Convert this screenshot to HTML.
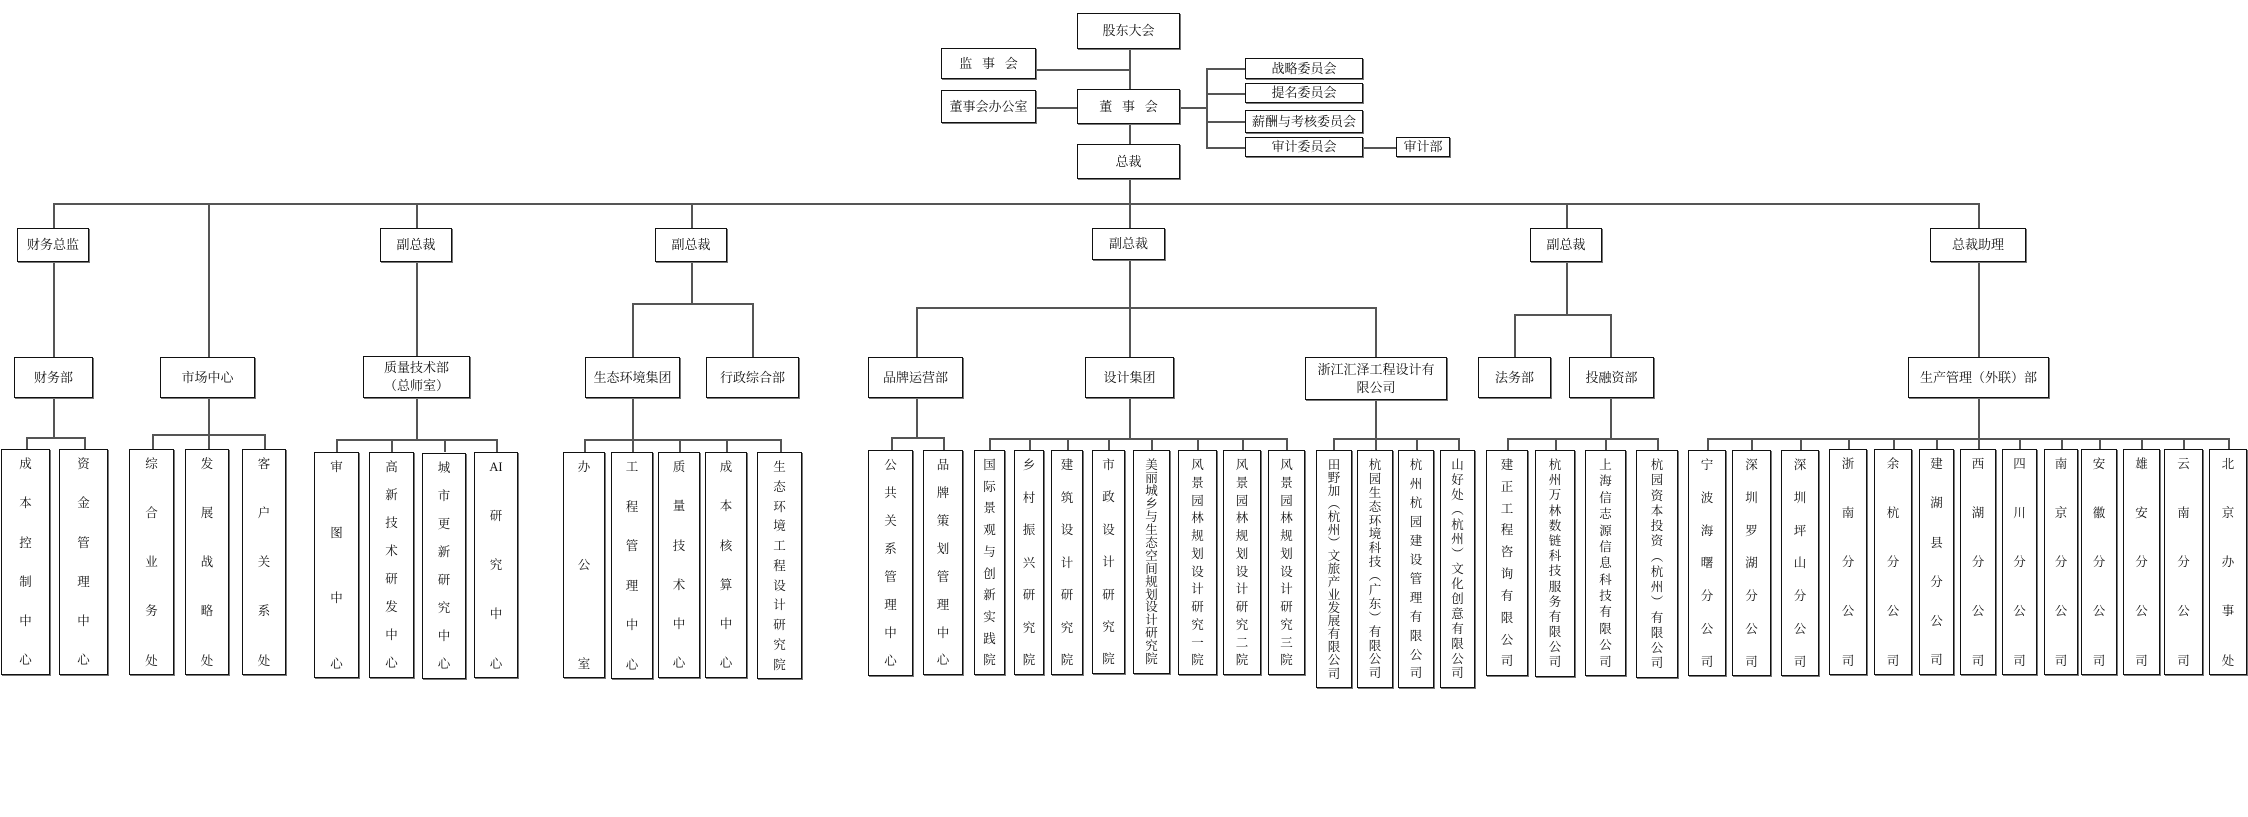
<!DOCTYPE html>
<html><head><meta charset="utf-8"><style>
body{margin:0;width:2248px;height:817px;background:#fff;position:relative;overflow:hidden;font-family:"Liberation Serif","Noto Serif CJK SC",serif;color:#111}
.b{position:absolute;border:1.5px solid #111;box-sizing:border-box;background:#fff;display:flex;align-items:center;justify-content:center;font-size:13px;box-shadow:1px 1px 0 #777;text-align:center;line-height:1.35;white-space:nowrap}
.c{flex-direction:column;justify-content:space-between;padding:8px 0 7px;font-size:12.5px;line-height:1}
.c i{font-style:normal;display:block}
.h,.v{position:absolute;background:#555}
.h{height:1.5px}.v{width:1.5px}
</style></head><body>
<!-- top lines -->
<div class="v" style="left:1129px;top:49px;height:40px"></div>
<div class="v" style="left:1129px;top:124px;height:20px"></div>
<div class="v" style="left:1129px;top:179px;height:24px"></div>
<div class="h" style="left:1036px;top:69px;width:93px"></div>
<div class="h" style="left:1036px;top:107px;width:41px"></div>
<div class="h" style="left:1180px;top:107px;width:26px"></div>
<div class="v" style="left:1206px;top:68px;height:80px"></div>
<div class="h" style="left:1206px;top:68px;width:39px"></div>
<div class="h" style="left:1206px;top:93px;width:39px"></div>
<div class="h" style="left:1206px;top:121px;width:39px"></div>
<div class="h" style="left:1206px;top:147px;width:39px"></div>
<div class="h" style="left:1363px;top:147px;width:33px"></div>
<div class="h" style="left:53px;top:203px;width:1926px"></div>
<div class="v" style="left:53px;top:203px;height:25px"></div>
<div class="v" style="left:416px;top:203px;height:25px"></div>
<div class="v" style="left:691px;top:203px;height:25px"></div>
<div class="v" style="left:1129px;top:203px;height:25px"></div>
<div class="v" style="left:1566px;top:203px;height:25px"></div>
<div class="v" style="left:1978px;top:203px;height:25px"></div>
<div class="v" style="left:208px;top:203px;height:154px"></div>
<!-- level2->3 -->
<div class="v" style="left:53px;top:262px;height:95px"></div>
<div class="v" style="left:416px;top:262px;height:94px"></div>
<div class="v" style="left:691px;top:262px;height:41px"></div>
<div class="h" style="left:632px;top:303px;width:121px"></div>
<div class="v" style="left:632px;top:303px;height:54px"></div>
<div class="v" style="left:752px;top:303px;height:54px"></div>
<div class="v" style="left:1129px;top:260px;height:47px"></div>
<div class="h" style="left:916px;top:307px;width:460px"></div>
<div class="v" style="left:916px;top:307px;height:50px"></div>
<div class="v" style="left:1129px;top:307px;height:50px"></div>
<div class="v" style="left:1375px;top:307px;height:50px"></div>
<div class="v" style="left:1566px;top:262px;height:52px"></div>
<div class="h" style="left:1514px;top:314px;width:97px"></div>
<div class="v" style="left:1514px;top:314px;height:43px"></div>
<div class="v" style="left:1610px;top:314px;height:43px"></div>
<div class="v" style="left:1978px;top:262px;height:95px"></div>
<!-- level3->children -->
<div class="v" style="left:53px;top:398px;height:39px"></div>
<div class="h" style="left:26px;top:437px;width:59px"></div>
<div class="v" style="left:26px;top:437px;height:13px"></div><div class="v" style="left:84px;top:437px;height:13px"></div>
<div class="v" style="left:208px;top:398px;height:36px"></div>
<div class="h" style="left:152px;top:434px;width:113px"></div>
<div class="v" style="left:152px;top:434px;height:16px"></div><div class="v" style="left:208px;top:434px;height:16px"></div><div class="v" style="left:264px;top:434px;height:16px"></div>
<div class="v" style="left:416px;top:398px;height:41px"></div>
<div class="h" style="left:336px;top:439px;width:161px"></div>
<div class="v" style="left:336px;top:439px;height:13px"></div><div class="v" style="left:391px;top:439px;height:13px"></div><div class="v" style="left:444px;top:439px;height:13px"></div><div class="v" style="left:496px;top:439px;height:13px"></div>
<div class="v" style="left:632px;top:398px;height:41px"></div>
<div class="h" style="left:584px;top:439px;width:197px"></div>
<div class="v" style="left:584px;top:439px;height:13px"></div><div class="v" style="left:632px;top:439px;height:13px"></div><div class="v" style="left:679px;top:439px;height:13px"></div><div class="v" style="left:726px;top:439px;height:13px"></div><div class="v" style="left:780px;top:439px;height:13px"></div>
<div class="v" style="left:916px;top:398px;height:39px"></div>
<div class="h" style="left:891px;top:437px;width:53px"></div>
<div class="v" style="left:891px;top:437px;height:13px"></div><div class="v" style="left:943px;top:437px;height:13px"></div>
<div class="v" style="left:1129px;top:398px;height:40px"></div>
<div class="h" style="left:989px;top:438px;width:298px"></div>
<div class="v" style="left:989px;top:438px;height:12px"></div><div class="v" style="left:1029px;top:438px;height:12px"></div><div class="v" style="left:1067px;top:438px;height:12px"></div><div class="v" style="left:1108px;top:438px;height:12px"></div><div class="v" style="left:1151px;top:438px;height:12px"></div><div class="v" style="left:1197px;top:438px;height:12px"></div><div class="v" style="left:1242px;top:438px;height:12px"></div><div class="v" style="left:1286px;top:438px;height:12px"></div>
<div class="v" style="left:1375px;top:400px;height:38px"></div>
<div class="h" style="left:1333px;top:438px;width:126px"></div>
<div class="v" style="left:1333px;top:438px;height:12px"></div><div class="v" style="left:1375px;top:438px;height:12px"></div><div class="v" style="left:1416px;top:438px;height:12px"></div><div class="v" style="left:1458px;top:438px;height:12px"></div>
<div class="v" style="left:1610px;top:398px;height:40px"></div>
<div class="h" style="left:1507px;top:438px;width:151px"></div>
<div class="v" style="left:1507px;top:438px;height:12px"></div><div class="v" style="left:1555px;top:438px;height:12px"></div><div class="v" style="left:1605px;top:438px;height:12px"></div><div class="v" style="left:1657px;top:438px;height:12px"></div>
<div class="v" style="left:1978px;top:398px;height:40px"></div>
<div class="h" style="left:1707px;top:438px;width:522px"></div>
<div class="v" style="left:1707px;top:438px;height:12px"></div><div class="v" style="left:1751px;top:438px;height:12px"></div><div class="v" style="left:1800px;top:438px;height:12px"></div><div class="v" style="left:1848px;top:438px;height:12px"></div><div class="v" style="left:1893px;top:438px;height:12px"></div><div class="v" style="left:1936px;top:438px;height:12px"></div><div class="v" style="left:1978px;top:438px;height:12px"></div><div class="v" style="left:2019px;top:438px;height:12px"></div><div class="v" style="left:2061px;top:438px;height:12px"></div><div class="v" style="left:2099px;top:438px;height:12px"></div><div class="v" style="left:2141px;top:438px;height:12px"></div><div class="v" style="left:2183px;top:438px;height:12px"></div><div class="v" style="left:2228px;top:438px;height:12px"></div>

<!-- top boxes -->
<div class="b" style="left:1077px;top:13px;width:103px;height:36px">股东大会</div>
<div class="b" style="left:941px;top:48px;width:95px;height:31px">监&nbsp;&nbsp;&nbsp;事&nbsp;&nbsp;&nbsp;会</div>
<div class="b" style="left:941px;top:90px;width:95px;height:33px">董事会办公室</div>
<div class="b" style="left:1077px;top:89px;width:103px;height:35px">董&nbsp;&nbsp;&nbsp;事&nbsp;&nbsp;&nbsp;会</div>
<div class="b" style="left:1077px;top:144px;width:103px;height:35px">总裁</div>
<div class="b" style="left:1245px;top:58px;width:118px;height:21px">战略委员会</div>
<div class="b" style="left:1245px;top:83px;width:118px;height:20px">提名委员会</div>
<div class="b" style="left:1245px;top:110px;width:118px;height:23px">薪酬与考核委员会</div>
<div class="b" style="left:1245px;top:137px;width:118px;height:20px">审计委员会</div>
<div class="b" style="left:1396px;top:137px;width:54px;height:20px">审计部</div>
<!-- level2 -->
<div class="b" style="left:17px;top:228px;width:72px;height:34px">财务总监</div>
<div class="b" style="left:380px;top:228px;width:72px;height:34px">副总裁</div>
<div class="b" style="left:655px;top:228px;width:72px;height:34px">副总裁</div>
<div class="b" style="left:1092px;top:228px;width:73px;height:32px">副总裁</div>
<div class="b" style="left:1530px;top:228px;width:72px;height:34px">副总裁</div>
<div class="b" style="left:1930px;top:228px;width:96px;height:34px">总裁助理</div>
<!-- level3 -->
<div class="b" style="left:14px;top:357px;width:79px;height:41px">财务部</div>
<div class="b" style="left:160px;top:357px;width:95px;height:41px">市场中心</div>
<div class="b" style="left:363px;top:356px;width:107px;height:42px">质量技术部<br>（总师室）</div>
<div class="b" style="left:585px;top:357px;width:95px;height:41px">生态环境集团</div>
<div class="b" style="left:706px;top:357px;width:93px;height:41px">行政综合部</div>
<div class="b" style="left:868px;top:357px;width:95px;height:41px">品牌运营部</div>
<div class="b" style="left:1085px;top:357px;width:89px;height:41px">设计集团</div>
<div class="b" style="left:1305px;top:357px;width:142px;height:43px">浙江汇泽工程设计有<br>限公司</div>
<div class="b" style="left:1478px;top:357px;width:73px;height:41px">法务部</div>
<div class="b" style="left:1569px;top:357px;width:85px;height:41px">投融资部</div>
<div class="b" style="left:1908px;top:357px;width:141px;height:41px">生产管理（外联）部</div>
<!-- children -->
<div class="b c" style="left:1px;top:449px;width:49px;height:226px"><i>成</i><i>本</i><i>控</i><i>制</i><i>中</i><i>心</i></div>
<div class="b c" style="left:59px;top:449px;width:49px;height:226px"><i>资</i><i>金</i><i>管</i><i>理</i><i>中</i><i>心</i></div>
<div class="b c" style="left:129px;top:449px;width:45px;height:226px"><i>综</i><i>合</i><i>业</i><i>务</i><i>处</i></div>
<div class="b c" style="left:185px;top:449px;width:44px;height:226px"><i>发</i><i>展</i><i>战</i><i>略</i><i>处</i></div>
<div class="b c" style="left:242px;top:449px;width:44px;height:226px"><i>客</i><i>户</i><i>关</i><i>系</i><i>处</i></div>
<div class="b c" style="left:314px;top:452px;width:45px;height:226px"><i>审</i><i>图</i><i>中</i><i>心</i></div>
<div class="b c" style="left:369px;top:452px;width:45px;height:226px"><i>高</i><i>新</i><i>技</i><i>术</i><i>研</i><i>发</i><i>中</i><i>心</i></div>
<div class="b c" style="left:422px;top:453px;width:44px;height:226px"><i>城</i><i>市</i><i>更</i><i>新</i><i>研</i><i>究</i><i>中</i><i>心</i></div>
<div class="b c" style="left:474px;top:452px;width:44px;height:226px"><i>AI</i><i>研</i><i>究</i><i>中</i><i>心</i></div>
<div class="b c" style="left:563px;top:452px;width:42px;height:226px"><i>办</i><i>公</i><i>室</i></div>
<div class="b c" style="left:611px;top:452px;width:42px;height:227px"><i>工</i><i>程</i><i>管</i><i>理</i><i>中</i><i>心</i></div>
<div class="b c" style="left:658px;top:452px;width:42px;height:226px"><i>质</i><i>量</i><i>技</i><i>术</i><i>中</i><i>心</i></div>
<div class="b c" style="left:705px;top:452px;width:42px;height:226px"><i>成</i><i>本</i><i>核</i><i>算</i><i>中</i><i>心</i></div>
<div class="b c" style="left:757px;top:452px;width:45px;height:227px"><i>生</i><i>态</i><i>环</i><i>境</i><i>工</i><i>程</i><i>设</i><i>计</i><i>研</i><i>究</i><i>院</i></div>
<div class="b c" style="left:868px;top:450px;width:45px;height:226px"><i>公</i><i>共</i><i>关</i><i>系</i><i>管</i><i>理</i><i>中</i><i>心</i></div>
<div class="b c" style="left:923px;top:450px;width:40px;height:225px"><i>品</i><i>牌</i><i>策</i><i>划</i><i>管</i><i>理</i><i>中</i><i>心</i></div>
<div class="b c" style="left:974px;top:450px;width:31px;height:225px"><i>国</i><i>际</i><i>景</i><i>观</i><i>与</i><i>创</i><i>新</i><i>实</i><i>践</i><i>院</i></div>
<div class="b c" style="left:1014px;top:450px;width:30px;height:225px"><i>乡</i><i>村</i><i>振</i><i>兴</i><i>研</i><i>究</i><i>院</i></div>
<div class="b c" style="left:1051px;top:450px;width:32px;height:225px"><i>建</i><i>筑</i><i>设</i><i>计</i><i>研</i><i>究</i><i>院</i></div>
<div class="b c" style="left:1092px;top:450px;width:33px;height:224px"><i>市</i><i>政</i><i>设</i><i>计</i><i>研</i><i>究</i><i>院</i></div>
<div class="b c" style="left:1133px;top:450px;width:37px;height:224px"><i>美</i><i>丽</i><i>城</i><i>乡</i><i>与</i><i>生</i><i>态</i><i>空</i><i>间</i><i>规</i><i>划</i><i>设</i><i>计</i><i>研</i><i>究</i><i>院</i></div>
<div class="b c" style="left:1178px;top:450px;width:39px;height:225px"><i>风</i><i>景</i><i>园</i><i>林</i><i>规</i><i>划</i><i>设</i><i>计</i><i>研</i><i>究</i><i>一</i><i>院</i></div>
<div class="b c" style="left:1223px;top:450px;width:38px;height:225px"><i>风</i><i>景</i><i>园</i><i>林</i><i>规</i><i>划</i><i>设</i><i>计</i><i>研</i><i>究</i><i>二</i><i>院</i></div>
<div class="b c" style="left:1268px;top:450px;width:37px;height:225px"><i>风</i><i>景</i><i>园</i><i>林</i><i>规</i><i>划</i><i>设</i><i>计</i><i>研</i><i>究</i><i>三</i><i>院</i></div>
<div class="b c" style="left:1316px;top:450px;width:36px;height:238px"><i>田</i><i>野</i><i>加</i><i>︵</i><i>杭</i><i>州</i><i>︶</i><i>文</i><i>旅</i><i>产</i><i>业</i><i>发</i><i>展</i><i>有</i><i>限</i><i>公</i><i>司</i></div>
<div class="b c" style="left:1357px;top:450px;width:36px;height:238px"><i>杭</i><i>园</i><i>生</i><i>态</i><i>环</i><i>境</i><i>科</i><i>技</i><i>︵</i><i>广</i><i>东</i><i>︶</i><i>有</i><i>限</i><i>公</i><i>司</i></div>
<div class="b c" style="left:1398px;top:450px;width:36px;height:238px"><i>杭</i><i>州</i><i>杭</i><i>园</i><i>建</i><i>设</i><i>管</i><i>理</i><i>有</i><i>限</i><i>公</i><i>司</i></div>
<div class="b c" style="left:1440px;top:450px;width:35px;height:238px"><i>山</i><i>好</i><i>处</i><i>︵</i><i>杭</i><i>州</i><i>︶</i><i>文</i><i>化</i><i>创</i><i>意</i><i>有</i><i>限</i><i>公</i><i>司</i></div>
<div class="b c" style="left:1486px;top:450px;width:42px;height:226px"><i>建</i><i>正</i><i>工</i><i>程</i><i>咨</i><i>询</i><i>有</i><i>限</i><i>公</i><i>司</i></div>
<div class="b c" style="left:1535px;top:450px;width:40px;height:227px"><i>杭</i><i>州</i><i>万</i><i>林</i><i>数</i><i>链</i><i>科</i><i>技</i><i>服</i><i>务</i><i>有</i><i>限</i><i>公</i><i>司</i></div>
<div class="b c" style="left:1585px;top:450px;width:41px;height:226px"><i>上</i><i>海</i><i>信</i><i>志</i><i>源</i><i>信</i><i>息</i><i>科</i><i>技</i><i>有</i><i>限</i><i>公</i><i>司</i></div>
<div class="b c" style="left:1636px;top:450px;width:42px;height:228px"><i>杭</i><i>园</i><i>资</i><i>本</i><i>投</i><i>资</i><i>︵</i><i>杭</i><i>州</i><i>︶</i><i>有</i><i>限</i><i>公</i><i>司</i></div>
<div class="b c" style="left:1688px;top:450px;width:38px;height:226px"><i>宁</i><i>波</i><i>海</i><i>曙</i><i>分</i><i>公</i><i>司</i></div>
<div class="b c" style="left:1732px;top:450px;width:39px;height:226px"><i>深</i><i>圳</i><i>罗</i><i>湖</i><i>分</i><i>公</i><i>司</i></div>
<div class="b c" style="left:1781px;top:450px;width:38px;height:226px"><i>深</i><i>圳</i><i>坪</i><i>山</i><i>分</i><i>公</i><i>司</i></div>
<div class="b c" style="left:1829px;top:449px;width:38px;height:226px"><i>浙</i><i>南</i><i>分</i><i>公</i><i>司</i></div>
<div class="b c" style="left:1874px;top:449px;width:38px;height:226px"><i>余</i><i>杭</i><i>分</i><i>公</i><i>司</i></div>
<div class="b c" style="left:1919px;top:449px;width:35px;height:226px"><i>建</i><i>湖</i><i>县</i><i>分</i><i>公</i><i>司</i></div>
<div class="b c" style="left:1960px;top:449px;width:36px;height:226px"><i>西</i><i>湖</i><i>分</i><i>公</i><i>司</i></div>
<div class="b c" style="left:2002px;top:449px;width:35px;height:226px"><i>四</i><i>川</i><i>分</i><i>公</i><i>司</i></div>
<div class="b c" style="left:2044px;top:449px;width:34px;height:226px"><i>南</i><i>京</i><i>分</i><i>公</i><i>司</i></div>
<div class="b c" style="left:2081px;top:449px;width:36px;height:226px"><i>安</i><i>徽</i><i>分</i><i>公</i><i>司</i></div>
<div class="b c" style="left:2123px;top:449px;width:37px;height:226px"><i>雄</i><i>安</i><i>分</i><i>公</i><i>司</i></div>
<div class="b c" style="left:2164px;top:449px;width:39px;height:226px"><i>云</i><i>南</i><i>分</i><i>公</i><i>司</i></div>
<div class="b c" style="left:2209px;top:449px;width:38px;height:226px"><i>北</i><i>京</i><i>办</i><i>事</i><i>处</i></div>
</body></html>
